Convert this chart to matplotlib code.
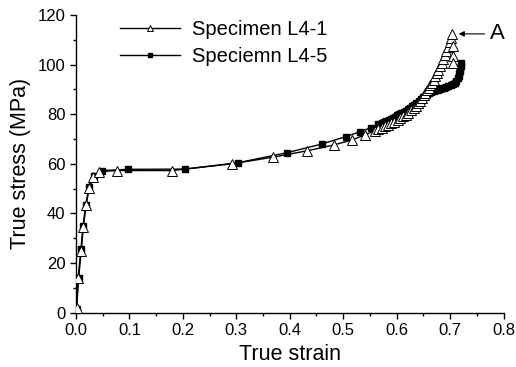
import matplotlib
matplotlib.use("Agg")
import matplotlib.pyplot as plt
from matplotlib.ticker import MultipleLocator

plt.rcParams['font.family'] = ['Liberation Sans', 'DejaVu Sans']

# Specimen L4-1 (open triangles)
strain_l41 = [0.001, 0.004, 0.009, 0.013, 0.018, 0.024, 0.032, 0.043, 0.077, 0.179,
              0.291, 0.369, 0.433, 0.482, 0.516, 0.541, 0.560, 0.566, 0.572, 0.578,
              0.584, 0.590, 0.596, 0.602, 0.607, 0.612, 0.617, 0.622, 0.627, 0.632,
              0.636, 0.640, 0.644, 0.648, 0.651, 0.654, 0.657, 0.660, 0.663, 0.666,
              0.669, 0.672, 0.675, 0.678, 0.681, 0.684, 0.687, 0.690, 0.693, 0.696,
              0.699, 0.701, 0.703, 0.706, 0.706, 0.706]
stress_l41 = [1.8, 13.9, 25.0, 34.7, 43.4, 50.2, 54.8, 56.9, 57.3, 57.3,
              60.0, 62.7, 65.3, 67.6, 69.6, 71.7, 73.4, 74.0, 74.6, 75.1,
              75.6, 76.3, 77.0, 77.8, 78.5, 79.2, 79.9, 80.7, 81.6, 82.6,
              83.5, 84.5, 85.5, 86.6, 87.6, 88.6, 89.6, 90.6, 91.7, 92.8,
              94.0, 95.3, 96.6, 98.0, 99.4, 100.8, 102.3, 103.9, 105.5, 107.2,
              109.0, 110.7, 112.4, 107.5, 103.5, 100.6]

# Specimen L4-5 (filled squares)
strain_l45 = [0.001, 0.005, 0.010, 0.014, 0.019, 0.025, 0.033, 0.048, 0.0975, 0.204,
              0.304, 0.395, 0.460, 0.505, 0.532, 0.552, 0.566, 0.572, 0.577, 0.581,
              0.585, 0.589, 0.593, 0.597, 0.601, 0.605, 0.609, 0.613, 0.617, 0.621,
              0.625, 0.629, 0.633, 0.637, 0.641, 0.645, 0.649, 0.653, 0.657, 0.661,
              0.665, 0.669, 0.673, 0.677, 0.681, 0.685, 0.689, 0.693, 0.697, 0.701,
              0.705, 0.709, 0.712, 0.714, 0.716, 0.717, 0.718, 0.719, 0.720, 0.721]
stress_l45 = [1.5, 14.0, 25.5, 35.0, 43.5, 50.5, 55.0, 57.3, 57.8, 57.9,
              60.5, 64.5, 68.0, 71.0, 73.0, 74.6, 76.0, 76.5, 77.0, 77.4,
              77.8, 78.2, 78.6, 79.0, 79.5, 80.0, 80.5, 81.0, 81.5, 82.0,
              82.6, 83.2, 83.8, 84.5, 85.2, 86.0, 86.8, 87.5, 88.0, 88.5,
              88.9, 89.3, 89.6, 89.9, 90.2, 90.4, 90.7, 91.0, 91.3, 91.7,
              92.2, 92.8, 93.6, 94.5, 95.5, 96.5, 97.5, 98.5, 99.5, 100.6]

labels = ["Specimen L4-1", "Speciemn L4-5"]
x_ticks = [0.0, 0.1, 0.2, 0.3, 0.4, 0.5, 0.6, 0.7, 0.8]
y_ticks = [0, 20, 40, 60, 80, 100, 120]

fig = plt.figure(figsize=(5.16, 3.67), dpi=100)
ax = fig.add_axes([0.1473, 0.148, 0.8285, 0.811])

ax.plot(strain_l45, stress_l45, color='black', lw=1.0, marker='s', ms=4.5,
        mfc='black', mec='black', label=labels[1], zorder=2)
ax.plot(strain_l41, stress_l41, color='black', lw=1.0, marker='^', ms=6.5,
        mfc='white', mec='black', mew=0.7, label=labels[0], zorder=3)

ax.set_xlim(0, 0.8)
ax.set_ylim(0, 120)
ax.set_xticks(x_ticks)
ax.set_yticks(y_ticks)
ax.set_xticklabels([f"{v:.1f}" for v in x_ticks])
ax.set_yticklabels([str(v) for v in y_ticks])
ax.xaxis.set_minor_locator(MultipleLocator(0.05))
ax.yaxis.set_minor_locator(MultipleLocator(10))
ax.tick_params(which='major', direction='out', length=4, width=1, labelsize=12)
ax.tick_params(which='minor', direction='out', length=2.5, width=1)
for s in ['top', 'right']:
    ax.spines[s].set_visible(False)
for s in ['left', 'bottom']:
    ax.spines[s].set_linewidth(1)

ax.set_xlabel("True strain", fontsize=15.5, labelpad=4)
ax.set_ylabel("True stress (MPa)", fontsize=15.5, labelpad=5)

h, l = ax.get_legend_handles_labels()
ax.legend([h[1], h[0]], [l[1], l[0]], loc='upper left',
          bbox_to_anchor=(0.06, 1.045), frameon=False, fontsize=14.5,
          handlelength=3.0, numpoints=1, labelspacing=0.42, handletextpad=0.6,
          markerscale=0.75)

ax.annotate("A", xy=(0.716, 112.4), xytext=(0.775, 112.4), fontsize=16,
            va='center', ha='left',
            arrowprops=dict(arrowstyle='-|>', color='black', lw=0.8,
                            mutation_scale=8, shrinkA=2, shrinkB=0))

fig.savefig("out.png", dpi=100)
